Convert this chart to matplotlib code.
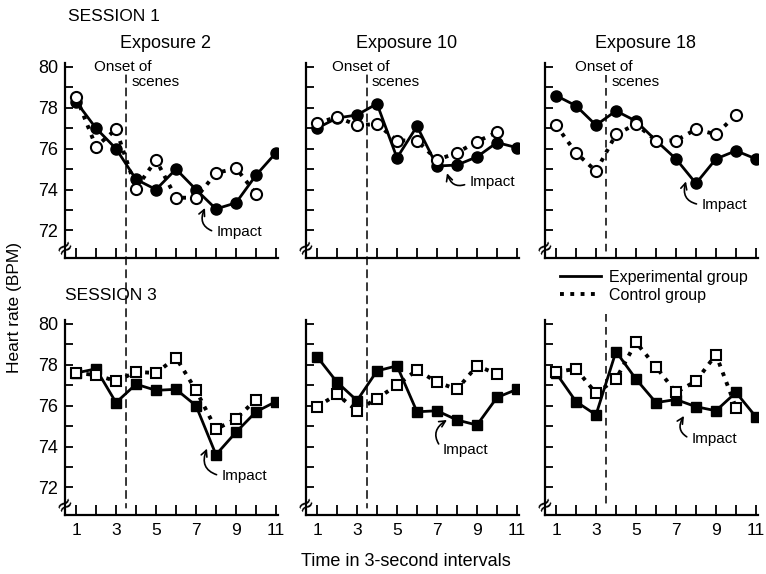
import matplotlib.pyplot as plt
from matplotlib.lines import Line2D
from matplotlib.patches import ConnectionPatch

plt.rcParams['font.family'] = ['Liberation Sans', 'DejaVu Sans']

# time intervals (3-second bins)
intervals = list(range(1, 12))
ctl_intervals = list(range(1, 11))
exposures = ['Exposure 2', 'Exposure 10', 'Exposure 18']
sessions = ['SESSION 1', 'SESSION 3']
y_ticks = [72, 74, 76, 78, 80]
x_ticklabels = ['1', '', '3', '', '5', '', '7', '', '9', '', '11']

# session 1 heart rate (BPM)
s1_e2_exp = [78.3, 77.0, 76.0, 74.5, 74.0, 75.0, 74.0, 73.05, 73.35, 74.7, 75.8]
s1_e2_ctl = [78.55, 76.1, 76.95, 74.05, 75.45, 73.6, 73.6, 74.8, 75.05, 73.8]
s1_e10_exp = [77.0, 77.5, 77.65, 78.2, 75.55, 77.1, 75.15, 75.2, 75.6, 76.3, 76.05]
s1_e10_ctl = [77.25, 77.55, 77.15, 77.2, 76.4, 76.4, 75.45, 75.8, 76.35, 76.8]
s1_e18_exp = [78.6, 78.1, 77.15, 77.85, 77.35, 76.4, 75.5, 74.3, 75.5, 75.9, 75.5]
s1_e18_ctl = [77.15, 75.8, 74.9, 76.7, 77.2, 76.4, 76.4, 76.95, 76.7, 77.65]

# session 3 heart rate (BPM)
s3_e2_exp = [77.6, 77.8, 76.15, 77.05, 76.75, 76.8, 76.0, 73.6, 74.7, 75.7, 76.2]
s3_e2_ctl = [77.6, 77.5, 77.2, 77.65, 77.6, 78.35, 76.75, 74.85, 75.35, 76.3]
s3_e10_exp = [78.4, 77.15, 76.25, 77.7, 77.95, 75.7, 75.75, 75.3, 75.05, 76.4, 76.8]
s3_e10_ctl = [75.95, 76.55, 75.75, 76.35, 77.0, 77.75, 77.15, 76.8, 77.95, 77.55]
s3_e18_exp = [77.6, 76.2, 75.55, 78.65, 77.3, 76.15, 76.3, 75.95, 75.75, 76.65, 75.45]
s3_e18_ctl = [77.65, 77.8, 76.6, 77.3, 79.1, 77.9, 76.65, 77.2, 78.5, 75.9]

exp_data = [[s1_e2_exp, s1_e10_exp, s1_e18_exp], [s3_e2_exp, s3_e10_exp, s3_e18_exp]]
ctl_data = [[s1_e2_ctl, s1_e10_ctl, s1_e18_ctl], [s3_e2_ctl, s3_e10_ctl, s3_e18_ctl]]

onset = 3.5

# layout: "Impact" label position / arrow tip (data coords) per panel
impact_label = [[(8.05, 71.9), (8.65, 74.35), (8.3, 73.25)],
                [(8.3, 72.55), (7.3, 73.85), (7.8, 74.35)]]
impact_tip = [[(7.45, 73.1), (7.5, 74.8), (7.5, 74.4)],
              [(7.55, 73.9), (7.5, 75.3), (7.4, 75.5)]]
onset_label_x = [3.33, 3.2, 3.4]
scenes_label_x = [3.8, 3.75, 3.8]

fig = plt.figure(figsize=(7.66, 5.74), dpi=100)
lefts = [0.0849, 0.3995, 0.7115]
bottoms = [0.5505, 0.1028]
w, h = 0.278, 0.340

axes = [[None] * 3 for _ in range(2)]
for r in range(2):
    for c in range(3):
        ax = fig.add_axes([lefts[c], bottoms[r], w, h])
        axes[r][c] = ax
        marker = 'o' if r == 0 else 's'
        ms = 8 if r == 0 else 7.5
        ax.plot(intervals, exp_data[r][c], '-', color='black', lw=2,
                marker=marker, ms=ms, mfc='black', mec='black', zorder=3)
        ax.plot(ctl_intervals, ctl_data[r][c], ':', color='black', lw=2.8,
                marker=marker, ms=ms, mfc='white', mec='black', mew=1.5, zorder=4)

        ax.set_xlim(0.45, 11.1)
        ax.set_ylim(70.65, 80.2)
        for s in ['top', 'right']:
            ax.spines[s].set_visible(False)
        for s in ['left', 'bottom']:
            ax.spines[s].set_linewidth(1.6)
        ax.set_yticks(y_ticks)
        ax.set_yticks([73, 75, 77, 79], minor=True)
        ax.set_xticks(intervals)
        ax.tick_params(axis='both', which='both', direction='in', width=1.3)
        ax.tick_params(axis='y', which='both', length=6, pad=5, labelsize=13)
        ax.tick_params(axis='x', length=7, pad=6, labelsize=12.5)
        if c > 0:
            ax.set_yticklabels([])
        if r == 0:
            ax.set_xticklabels([])
        else:
            ax.set_xticklabels(x_ticklabels)

        # axis break mark
        ax.text(0, 0.055, '\u2248', transform=ax.transAxes, fontsize=15,
                rotation=35, ha='center', va='center', family='DejaVu Sans')

        # impact annotation
        ax.annotate('Impact', xy=impact_tip[r][c], xytext=impact_label[r][c],
                    fontsize=11, ha='left', va='center',
                    arrowprops=dict(arrowstyle='->', color='black', lw=1.2,
                                    connectionstyle='arc3,rad=-0.6',
                                    relpos=(0, 0.5), shrinkA=2, shrinkB=0))

# onset text and dashed lines
for c in range(3):
    top, bot = axes[0][c], axes[1][c]
    top.text(onset_label_x[c], 80.0, 'Onset of', fontsize=11, ha='center', va='center')
    top.text(scenes_label_x[c], 79.25, 'scenes', fontsize=11, ha='left', va='center')
    if c < 2:
        con = ConnectionPatch(xyA=(onset, 79.6), coordsA=top.transData,
                              xyB=(onset, 71.0), coordsB=bot.transData,
                              linestyle=(0, (5, 3.5)), lw=1.1, color='black')
        fig.add_artist(con)
    else:
        top.plot([onset, onset], [79.6, 70.9], linestyle=(0, (5, 3.5)), lw=1.1,
                 color='black', clip_on=False)
        bot.plot([onset, onset], [80.5, 71.0], linestyle=(0, (5, 3.5)), lw=1.1,
                 color='black', clip_on=False)

# titles
fig.text(0.0888, 0.972, sessions[0], fontsize=12.5, ha='left', va='center')
fig.text(0.0849, 0.485, sessions[1], fontsize=12.5, ha='left', va='center')
for c, name in enumerate(exposures):
    fig.text(lefts[c] + w * 0.47, 0.925, name, fontsize=13, ha='center', va='center')

fig.text(0.019, 0.465, 'Heart rate (BPM)', fontsize=12.5, rotation=90,
         ha='center', va='center')
fig.text(0.53, 0.021, 'Time in 3-second intervals', fontsize=13,
         ha='center', va='center')

handles = [Line2D([], [], color='black', lw=2, ls='-'),
           Line2D([], [], color='black', lw=2.8, ls=':')]
fig.legend(handles, ['Experimental group', 'Control group'], loc='center left',
           bbox_to_anchor=(0.712, 0.501), frameon=False, fontsize=11.5,
           handlelength=2.6, handletextpad=0.5, labelspacing=0.2)

fig.savefig('out.png', dpi=100)
